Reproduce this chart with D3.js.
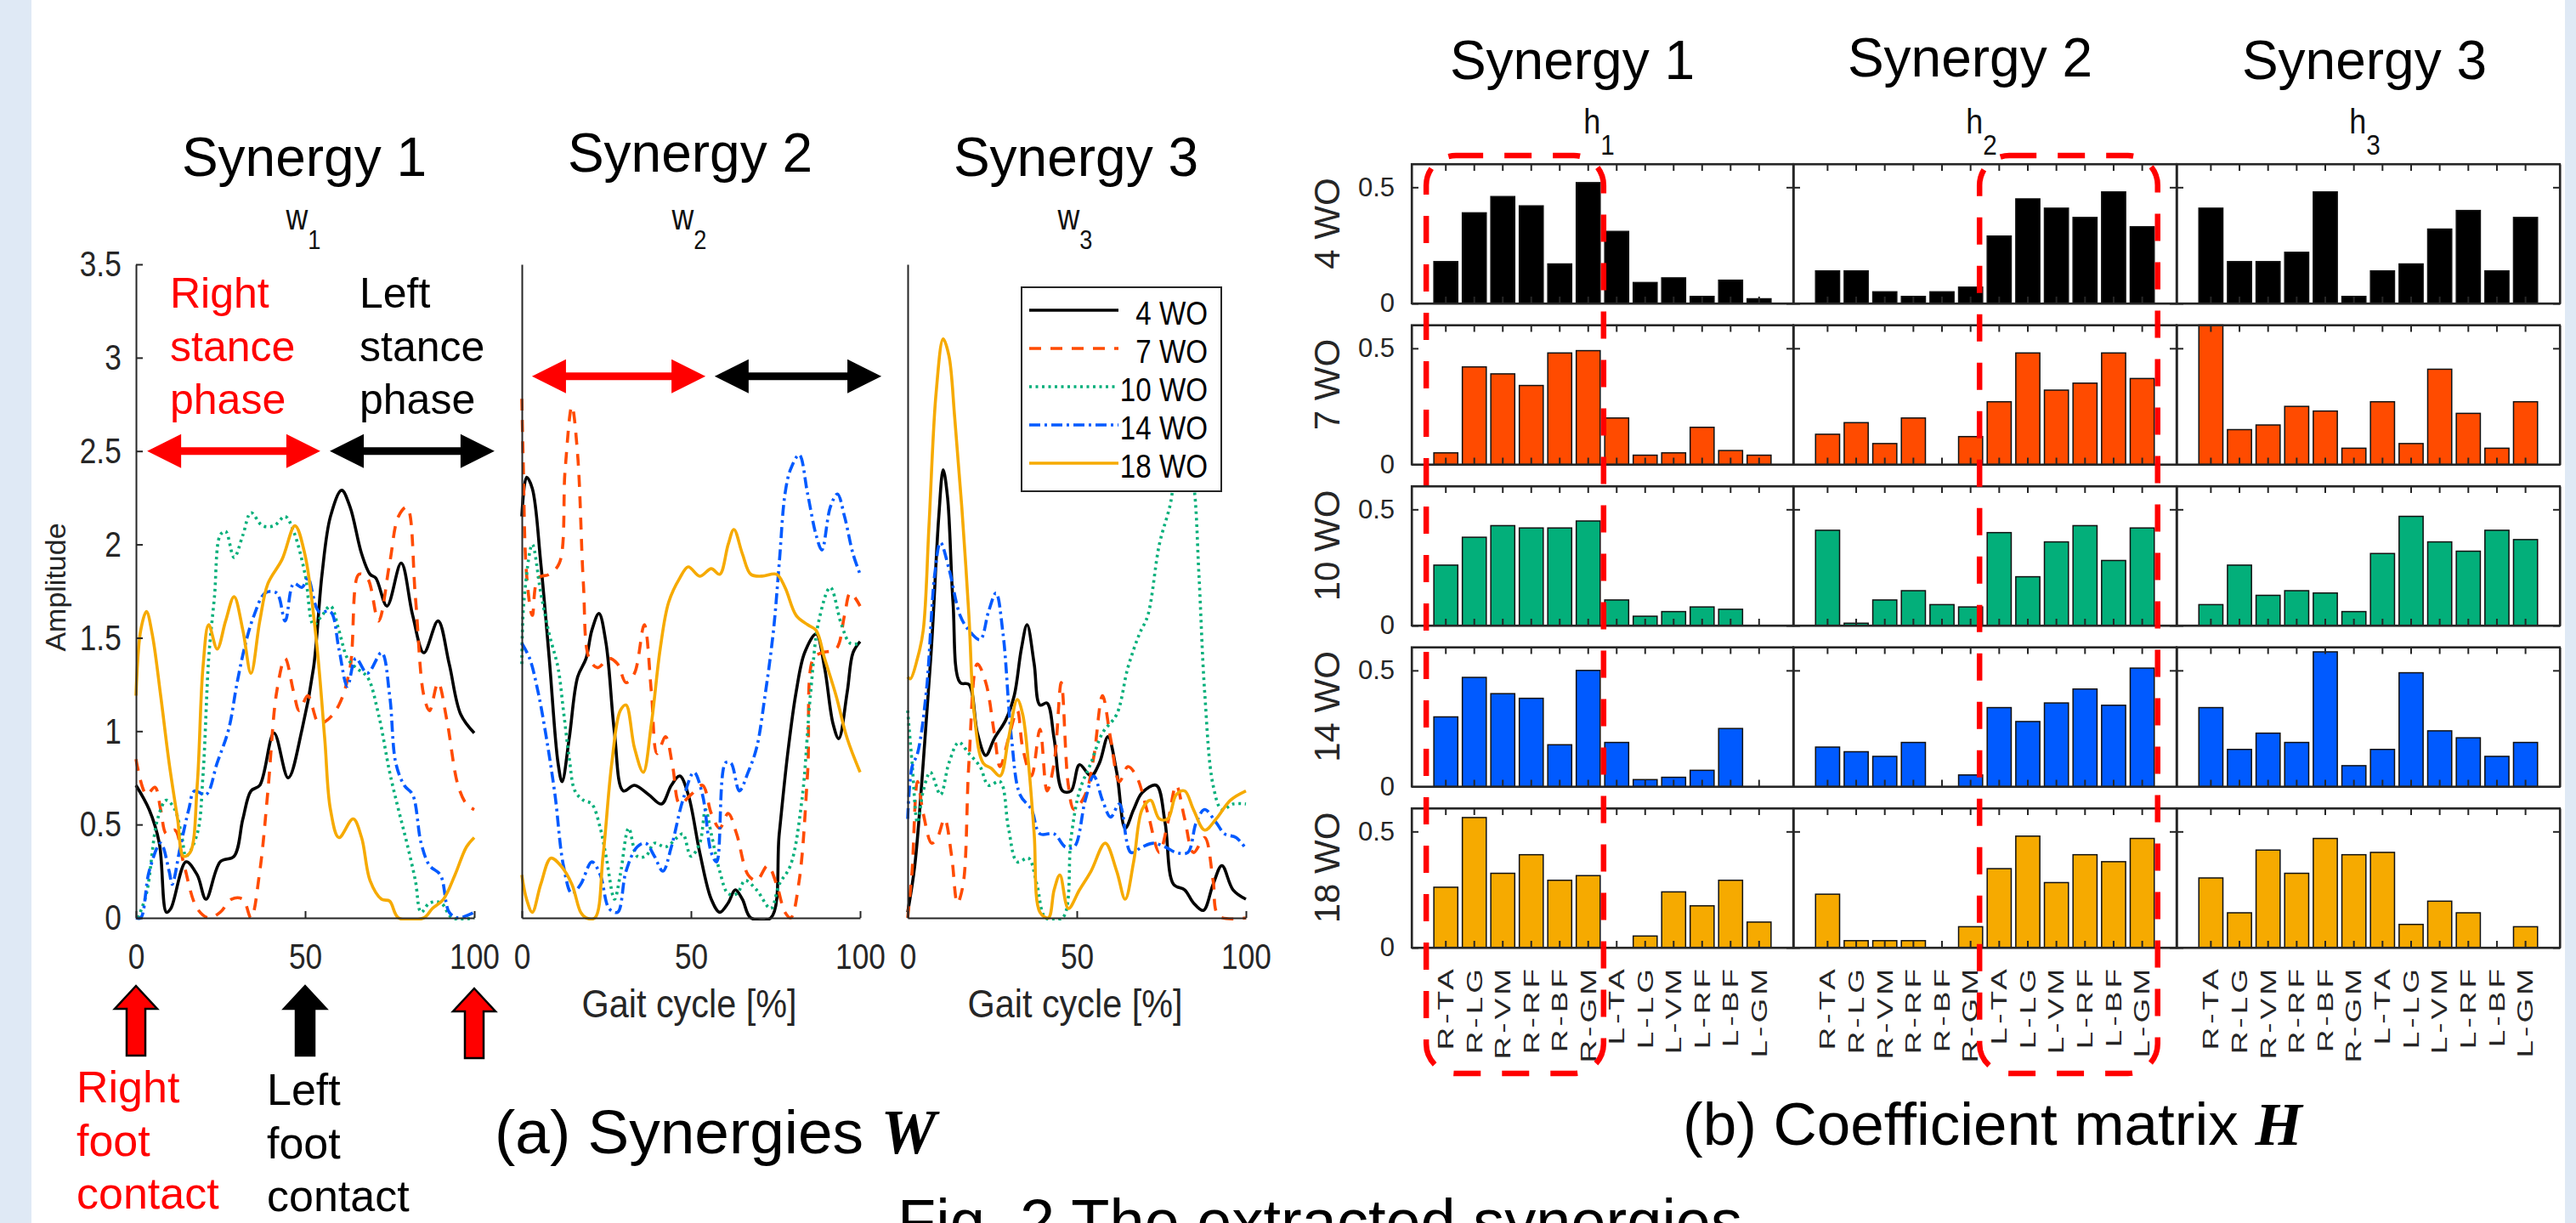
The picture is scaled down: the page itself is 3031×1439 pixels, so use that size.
<!DOCTYPE html>
<html>
<head>
<meta charset="utf-8">
<script src="https://cdn.jsdelivr.net/npm/d3@7"></script>
<style>
  body { margin: 0; background: #fff; }
  svg { display: block; }
  text { font-family: 'Liberation Sans', Arial, Helvetica, sans-serif; }
</style>
</head>
<body>
<script>
// ---------- data ----------
const groups = ['4 WO', '7 WO', '10 WO', '14 WO', '18 WO']
const colors = ['#000000', '#ff4b00', '#03af7a', '#005aff', '#f6aa00']
const dashes = [null, '14 11', '3 4.5', '13 5 3 5', null]
const muscles = ['R-TA', 'R-LG', 'R-VM', 'R-RF', 'R-BF', 'R-GM', 'L-TA', 'L-LG', 'L-VM', 'L-RF', 'L-BF', 'L-GM']
const gaitTicks = [0, 50, 100]
const ampTicks = [0, 0.5, 1, 1.5, 2, 2.5, 3, 3.5]
const coefTicks = [0, 0.5]

// synergy waveforms W, points are [gait cycle %, amplitude]
const w1_4wo = [[0,0.71],[3.9,0.58],[6.9,0.40],[9,0.03],[10.3,0.05],[14.8,0.30],[18.1,0.23],[20.7,0.10],[24.9,0.30],[29,0.33],[31.6,0.53],[34,0.68],[36.6,0.71],[40.8,0.99],[45,0.75],[49.1,1.01],[52.5,1.34],[55,1.84],[57.5,2.15],[60.8,2.29],[63.3,2.20],[66.7,1.95],[69.2,1.84],[70.9,1.82],[74.2,1.67],[78.4,1.90],[81.8,1.62],[85.1,1.42],[89.3,1.59],[92.6,1.36],[96,1.09],[100,0.99]]
const w1_7wo = [[0,0.85],[3.1,0.66],[5.6,0.70],[7.3,0.58],[9,0.45],[11.5,0.47],[14,0.30],[18.1,0.05],[21.5,0],[24.9,0.03],[28.2,0.10],[31.6,0.10],[34,0],[36.6,0.25],[39,0.68],[41.6,1.21],[44.1,1.39],[46.6,1.21],[48.3,1.11],[50.8,1.19],[54.1,1.04],[56.6,1.06],[60,1.14],[63.3,1.34],[65.9,1.84],[68.4,1.82],[71.7,1.59],[75,1.90],[77.6,2.15],[80.1,2.20],[82.6,1.72],[85.1,1.19],[86.8,1.11],[89.3,1.26],[91.9,1.06],[95.2,0.71],[97.7,0.61],[100,0.58]]
const w1_10wo = [[0.6,0],[3.1,0.13],[6.4,0.53],[9,0.63],[11.5,0.58],[13.6,0.43],[14.8,0.33],[18.1,0.45],[19.8,0.76],[21.5,1.39],[23.2,1.72],[24.9,2.05],[26.5,2.07],[29,1.93],[31.6,2.05],[34,2.17],[37.4,2.10],[40.8,2.10],[44.1,2.15],[46.6,2.07],[50,1.84],[52.5,1.57],[55,1.62],[57.5,1.67],[60,1.54],[62.5,1.39],[65,1.34],[68.4,1.29],[71.7,1.09],[75,0.78],[77.6,0.58],[80.1,0.40],[82.6,0.20],[84.3,0.03],[86.8,0.08],[90.2,0.08],[93.5,0],[100,0]]
const w1_14wo = [[0,0],[1.4,0],[3.9,0.25],[7.3,0.40],[9.8,0.25],[10.7,0.18],[13.1,0.38],[15.6,0.58],[17.3,0.68],[20.7,0.66],[24,0.83],[27.4,1.01],[29.9,1.26],[32.4,1.47],[34.9,1.62],[38.2,1.74],[41.6,1.74],[44.1,1.59],[46.6,1.79],[49.1,1.77],[50.8,1.82],[54.1,1.64],[57.5,1.64],[60,1.44],[62.5,1.24],[65,1.39],[68.4,1.31],[72.6,1.42],[75,1.19],[76.8,0.83],[79.3,0.71],[81.8,0.66],[84.3,0.40],[86.8,0.28],[90,0.23],[92.6,0.03],[95.2,0],[100,0.03]]
const w1_18wo = [[0,1.19],[1.4,1.54],[3.1,1.64],[4.8,1.52],[7.3,1.19],[9.8,0.83],[12.3,0.53],[14,0.33],[16,0.35],[18.1,0.71],[19.8,1.34],[21.5,1.57],[24,1.44],[26.5,1.59],[29,1.72],[31.6,1.54],[34,1.31],[36.6,1.59],[39,1.79],[43.2,1.92],[47,2.10],[49.9,1.95],[53.3,1.49],[55.8,0.96],[57.5,0.58],[60,0.43],[64.2,0.53],[66.7,0.43],[69.2,0.20],[72.6,0.10],[75,0.09],[77.6,0],[85.1,0],[87.6,0.05],[90.9,0.10],[94.3,0.23],[97.7,0.38],[100,0.43]]

const w2_4wo = [[0,2.15],[1.4,2.36],[3.1,2.30],[5.6,1.90],[8.1,1.39],[10.7,0.83],[11.9,0.73],[14,0.96],[16.5,1.29],[19,1.39],[20.7,1.54],[22.8,1.63],[24.9,1.47],[27.4,0.99],[30,0.68],[33.3,0.71],[37.5,0.66],[41.3,0.61],[44.2,0.71],[46.7,0.76],[49.2,0.66],[52.6,0.35],[56,0.10],[58.5,0.03],[61,0.08],[63.1,0.15],[65.2,0.10],[67.7,0],[73.6,0],[76.1,0.45],[78.6,0.88],[81.1,1.21],[83.6,1.42],[87,1.52],[89.5,1.34],[92,1.04],[93.7,0.96],[96.2,1.21],[97.9,1.42],[100,1.48]]
const w2_7wo = [[0,2.78],[0.4,2.45],[1.4,1.84],[3.1,1.62],[4.8,1.82],[8.1,1.84],[11.1,1.90],[12.8,2.40],[14.8,2.74],[16.5,2.48],[18.2,1.79],[19.9,1.39],[22.4,1.34],[25.8,1.39],[28.3,1.36],[30.8,1.26],[33.3,1.31],[36.2,1.57],[38.3,1.21],[40,0.88],[42.5,0.97],[44.6,0.81],[46.7,0.61],[50,0.66],[53.4,0.71],[56,0.56],[58.5,0.48],[61,0.56],[63.5,0.45],[66.9,0.23],[69.4,0.20],[72.7,0.28],[75.3,0.18],[77.8,0.03],[79.5,0],[82,0.20],[84.5,0.78],[86.2,1.39],[88.7,1.42],[92.9,1.44],[95.4,1.62],[97.1,1.74],[100,1.67]]
const w2_10wo = [[0,1.36],[0.6,1.69],[3.1,2.0],[5.6,1.74],[8.1,1.52],[10.7,1.34],[12.3,1.11],[14,0.86],[15.7,0.68],[18.2,0.63],[20.7,0.61],[23.2,0.48],[24.9,0.33],[27.4,0.10],[29.1,0.23],[31.6,0.48],[34.1,0.33],[36.6,0.33],[39.2,0.40],[42.5,0.38],[45.9,0.43],[47.6,0.45],[50,0.33],[52.6,0.40],[54.3,0.58],[56,0.45],[58.5,0.25],[61,0.13],[63.6,0.13],[66,0.20],[69.4,0.15],[73.6,0.05],[76.1,0.18],[79.4,0.28],[82.8,0.63],[85.3,1.19],[87.8,1.59],[91.2,1.77],[94.5,1.57],[97.1,1.47],[100,1.47]]
const w2_14wo = [[0,1.47],[2.3,1.39],[4.8,1.21],[7.3,0.96],[9.8,0.66],[12.3,0.28],[14.8,0.13],[17.4,0.18],[20.7,0.30],[23.2,0.23],[25.8,0.05],[28.3,0.03],[30.8,0.25],[34.1,0.38],[36.6,0.40],[39.2,0.33],[41.7,0.25],[44.2,0.38],[47.6,0.63],[50.9,0.78],[53.4,0.66],[56,0.35],[57.6,0.30],[60.2,0.83],[61.8,0.83],[64.3,0.68],[66.9,0.78],[69.4,0.91],[71.9,1.19],[74.4,1.54],[76.1,1.90],[77.8,2.27],[79.4,2.40],[82,2.48],[84.5,2.27],[87,2.05],[88.7,1.97],[91.2,2.20],[93.3,2.27],[95.4,2.15],[97.9,1.95],[100,1.84]]
const w2_18wo = [[0,0.23],[1.4,0.10],[3.1,0.03],[5.6,0.18],[8.6,0.32],[11.5,0.28],[14.8,0.18],[17.4,0.03],[19,0],[21.6,0],[24,0.33],[26.6,0.83],[29.1,1.11],[30.8,1.14],[33.3,0.91],[35.9,0.78],[38.3,1.04],[40.9,1.44],[43.4,1.69],[46.7,1.82],[49.2,1.88],[52.6,1.83],[56,1.87],[58.5,1.84],[61,2.0],[62.7,2.08],[65.2,1.95],[67.7,1.84],[71,1.83],[75.3,1.84],[77.8,1.77],[81.1,1.62],[84.5,1.57],[87,1.54],[89.5,1.39],[92.9,1.19],[96.2,0.96],[100,0.78]]

const w3_4wo = [[0,0.03],[2.1,0.28],[4.6,0.83],[7.1,1.47],[9.2,2.15],[10.5,2.40],[11.8,2.25],[13.4,1.69],[15.5,1.26],[18.1,1.25],[20.6,0.99],[23.1,0.87],[25.6,0.96],[29,1.06],[31.5,1.19],[33.6,1.44],[35.3,1.57],[37.4,1.36],[39.1,1.14],[41.2,1.15],[43.3,0.96],[45.8,0.68],[48.3,0.68],[50.8,0.82],[54.2,0.76],[56.7,0.83],[59.2,0.97],[61.8,0.78],[64.3,0.48],[66.8,0.58],[69.3,0.67],[73.5,0.71],[76.1,0.51],[78.6,0.18],[81.9,0.15],[84.5,0.08],[87.4,0.04],[90.3,0.18],[92.9,0.28],[96.2,0.15],[100,0.10]]
const w3_7wo = [[0,0],[1.3,0.25],[2.9,0.73],[4.6,0.56],[7.1,0.40],[8.8,0.43],[10.9,0.53],[13,0.33],[14.7,0.08],[16.4,0.18],[18.1,0.83],[20.6,1.36],[23.1,1.26],[25.6,0.99],[27.3,0.81],[29.8,0.96],[32.4,1.11],[34,0.91],[36.6,0.76],[39.1,1.01],[41.2,0.68],[43.3,0.83],[45.4,1.26],[47.5,0.71],[49.2,0.58],[52.5,0.66],[55,0.86],[57.6,1.19],[60,0.96],[62.6,0.73],[65.1,0.81],[67.6,0.76],[71,0.56],[74.4,0.35],[76.9,0.51],[79.4,0.71],[81.9,0.53],[84.5,0.35],[87.8,0.43],[90.3,0.20],[92,0.01],[100,0]]
const w3_10wo = [[0,1.11],[1.3,0.83],[2.9,0.51],[4.6,0.68],[6.7,0.78],[9.7,0.66],[12.2,0.83],[15.1,0.94],[18.1,0.88],[21.4,0.81],[23.9,0.71],[27.3,0.73],[29.8,0.48],[32.4,0.30],[35.7,0.32],[38.2,0.18],[40.8,0],[45.8,0],[48.3,0.43],[50.8,0.68],[54.2,0.83],[57.6,0.99],[61.8,1.09],[65.1,1.34],[68.5,1.52],[71,1.62],[74.4,2.0],[77.7,2.22],[79.4,2.43],[81.9,2.55],[84.5,2.33],[86.1,1.84],[87.8,1.21],[90.3,0.71],[92.9,0.58],[96.2,0.61],[100,0.61]]
const w3_14wo = [[0,0.53],[1.3,0.81],[2.9,0.88],[5.5,1.21],[8,1.84],[9.7,2.01],[12.2,1.87],[15.5,1.62],[18.1,1.54],[21.4,1.49],[23.9,1.64],[26.1,1.74],[28.2,1.52],[30.7,0.96],[33.2,0.66],[36.6,0.58],[39.1,0.45],[43.3,0.45],[46.6,0.38],[49.2,0.38],[52.5,0.63],[55,0.76],[57.6,0.63],[60,0.54],[62.6,0.61],[66,0.35],[69.3,0.38],[72.7,0.40],[76.1,0.38],[79.4,0.35],[82.8,0.35],[85.3,0.51],[87.8,0.58],[91.2,0.51],[93.7,0.45],[97.1,0.43],[100,0.37]]
const w3_18wo = [[0,1.29],[0.8,1.28],[2.9,1.39],[4.6,1.54],[6.3,2.10],[8.4,2.81],[10.5,3.10],[12.2,3.01],[13.9,2.68],[16,2.20],[18.1,1.62],[19.7,1.09],[22.3,0.83],[24.8,0.80],[27.3,0.76],[29.8,0.96],[32.4,1.17],[34,1.09],[35.7,0.83],[37.4,0.45],[39.1,0.03],[41.6,0],[43.3,0.15],[45,0.23],[47.5,0.05],[50.8,0.15],[54.2,0.25],[58.4,0.40],[61.8,0.25],[64.3,0.10],[66.8,0.30],[69.3,0.58],[71.8,0.63],[74.4,0.53],[76.9,0.53],[79.4,0.66],[81.9,0.68],[84.5,0.58],[87.8,0.47],[91.2,0.53],[95.4,0.63],[100,0.68]]

const synergiesW = [
  [w1_4wo, w1_7wo, w1_10wo, w1_14wo, w1_18wo],
  [w2_4wo, w2_7wo, w2_10wo, w2_14wo, w2_18wo],
  [w3_4wo, w3_7wo, w3_10wo, w3_14wo, w3_18wo]
]

// coefficient matrix H: per group, [h1, h2, h3] over the 12 muscles
const h_4wo = [
  [0.18, 0.39, 0.46, 0.42, 0.17, 0.52, 0.31, 0.09, 0.11, 0.03, 0.10, 0.02],
  [0.14, 0.14, 0.05, 0.03, 0.05, 0.07, 0.29, 0.45, 0.41, 0.37, 0.48, 0.33],
  [0.41, 0.18, 0.18, 0.22, 0.48, 0.03, 0.14, 0.17, 0.32, 0.40, 0.14, 0.37]
]
const h_7wo = [
  [0.05, 0.42, 0.39, 0.34, 0.48, 0.49, 0.20, 0.04, 0.05, 0.16, 0.06, 0.04],
  [0.13, 0.18, 0.09, 0.20, 0, 0.12, 0.27, 0.48, 0.32, 0.35, 0.48, 0.37],
  [0.62, 0.15, 0.17, 0.25, 0.23, 0.07, 0.27, 0.09, 0.41, 0.22, 0.07, 0.27]
]
const h_10wo = [
  [0.26, 0.38, 0.43, 0.42, 0.42, 0.45, 0.11, 0.04, 0.06, 0.08, 0.07, 0],
  [0.41, 0.01, 0.11, 0.15, 0.09, 0.08, 0.40, 0.21, 0.36, 0.43, 0.28, 0.42],
  [0.09, 0.26, 0.13, 0.15, 0.14, 0.06, 0.31, 0.47, 0.36, 0.32, 0.41, 0.37]
]
const h_14wo = [
  [0.30, 0.47, 0.40, 0.38, 0.18, 0.50, 0.19, 0.03, 0.04, 0.07, 0.25, 0],
  [0.17, 0.15, 0.13, 0.19, 0, 0.05, 0.34, 0.28, 0.36, 0.42, 0.35, 0.51],
  [0.34, 0.16, 0.23, 0.19, 0.58, 0.09, 0.16, 0.49, 0.24, 0.21, 0.13, 0.19]
]
const h_18wo = [
  [0.26, 0.56, 0.32, 0.40, 0.29, 0.31, 0, 0.05, 0.24, 0.18, 0.29, 0.11],
  [0.23, 0.03, 0.03, 0.03, 0, 0.09, 0.34, 0.48, 0.28, 0.40, 0.37, 0.47],
  [0.30, 0.15, 0.42, 0.32, 0.47, 0.40, 0.41, 0.10, 0.20, 0.15, 0, 0.09]
]
const coefH = [h_4wo, h_7wo, h_10wo, h_14wo, h_18wo]

// stance phase arrows (gait %, amplitude level) and foot contact events
const phaseArrows = [
  { panel: 0, level: 2.5, from: 3.3, to: 54.5, color: '#ff0000' },
  { panel: 0, level: 2.5, from: 57.3, to: 106, color: '#000000' },
  { panel: 1, level: 2.9, from: 3, to: 54.3, color: '#ff0000' },
  { panel: 1, level: 2.9, from: 57, to: 106.3, color: '#000000' }
]
const contacts = [{ at: 0, color: '#ff0000' }, { at: 50, color: '#000000' }, { at: 100, color: '#ff0000' }]
const highlights = [{ col: 0, from: 'R-TA', to: 'R-GM' }, { col: 1, from: 'L-TA', to: 'L-GM' }]

// ---------- drawing ----------
const width = 3031
const height = 1439
const AX = '#262626'
const FONT = "'Liberation Sans', Arial, Helvetica, sans-serif"

const svg = d3.select('body').append('svg')
    .attr('width', width)
    .attr('height', height)

svg.append('rect').attr('width', width).attr('height', height).attr('fill', '#fff')
svg.append('rect').attr('width', 37).attr('height', height).attr('fill', '#dfe9f5')
svg.append('rect').attr('x', 3018).attr('width', 13).attr('height', height).attr('fill', '#dfe9f5')

function label (g, x, y, str, o = {}) {
    let tr = `translate(${x},${y})`
    if (o.rotate) tr += ` rotate(${o.rotate})`
    if (o.sx || o.sy) tr += ` scale(${o.sx || 1},${o.sy || 1})`
    const t = g.append('text')
        .attr('transform', tr)
        .attr('font-size', o.size || 40)
        .attr('fill', o.color || '#000')
        .attr('text-anchor', o.anchor || 'start')
        .text(str)
    if (o.weight) t.attr('font-weight', o.weight)
    return t
}

function subLabel (g, x, y, main, sub, size, subSize, drop, sx) {
    const t = g.append('text')
        .attr('transform', `translate(${x},${y}) scale(${sx},1)`)
        .attr('font-size', size)
        .attr('text-anchor', 'middle')
        .attr('fill', '#111')
    t.append('tspan').text(main)
    t.append('tspan').attr('dy', drop).attr('font-size', subSize).text(sub)
}

function styleAxis (g, size, sx) {
    g.attr('font-size', size).attr('font-family', FONT).attr('color', AX)
    g.selectAll('path, line').attr('stroke-width', 2)
    if (sx) g.selectAll('.tick text').attr('transform', `scale(${sx},1)`)
}

// ----- (a) synergies W -----
const yAmp = d3.scaleLinear().domain([0, 3.5]).range([1080, 311])
const wRanges = [[160, 558], [614, 1012], [1068, 1466]]
const wTitleY = [207, 202, 207]

synergiesW.forEach((series, i) => {
    const x = d3.scaleLinear().domain([0, 100]).range(wRanges[i])
    const g = svg.append('g')
    const cx = (wRanges[i][0] + wRanges[i][1]) / 2

    const clipId = 'wclip' + i
    svg.append('clipPath').attr('id', clipId).append('rect')
        .attr('x', wRanges[i][0] - 2).attr('y', 290)
        .attr('width', wRanges[i][1] - wRanges[i][0] + 4).attr('height', yAmp(0) - 290 + 3)

    const lineGen = d3.line()
        .x(d => x(d[0]))
        .y(d => yAmp(d[1]))
        .curve(d3.curveCatmullRom.alpha(0.5))

    const lg = g.append('g').attr('clip-path', `url(#${clipId})`)
    series.forEach((pts, k) => {
        lg.append('path')
            .attr('d', lineGen(pts))
            .attr('fill', 'none')
            .attr('stroke', colors[k])
            .attr('stroke-width', 3.6)
            .attr('stroke-linejoin', 'round')
            .attr('stroke-dasharray', dashes[k])
    })

    const xa = g.append('g')
        .attr('transform', `translate(0,${yAmp(0)})`)
        .call(d3.axisBottom(x).tickValues(gaitTicks).tickSize(-8).tickSizeOuter(0).tickPadding(29).tickFormat(d => d))
    styleAxis(xa, 43, 0.82)

    const ya = g.append('g')
        .attr('transform', `translate(${wRanges[i][0]},0)`)
        .call(d3.axisLeft(yAmp).tickValues(i === 0 ? ampTicks : []).tickSize(-8).tickSizeOuter(0).tickPadding(21).tickFormat(d => d))
    styleAxis(ya, 43, 0.82)

    label(svg, cx - 1, wTitleY[i], 'Synergy ' + (i + 1), { size: 64, anchor: 'middle' })
    subLabel(svg, cx - 2, 270, 'w', String(i + 1), 42, 32, 23, 0.85)

    if (i > 0) label(svg, cx - 2, 1197, 'Gait cycle [%]', { size: 46, anchor: 'middle', color: AX, sx: 0.9 })
})

label(svg, 77, 691, 'Amplitude', { size: 34, anchor: 'middle', rotate: -90, color: AX })

// stance phase arrows
phaseArrows.forEach(a => {
    const x = d3.scaleLinear().domain([0, 100]).range(wRanges[a.panel])
    const x1 = x(a.from), x2 = x(a.to), y = yAmp(a.level)
    const hl = 40, hh = 20, sh = 4.5
    const pts = [[x1, y], [x1 + hl, y - hh], [x1 + hl, y - sh], [x2 - hl, y - sh], [x2 - hl, y - hh], [x2, y],
        [x2 - hl, y + hh], [x2 - hl, y + sh], [x1 + hl, y + sh], [x1 + hl, y + hh]]
    svg.append('polygon').attr('points', pts.join(' ')).attr('fill', a.color)
})

const stanceLines = ['stance', 'phase']
label(svg, 200, 362, 'Right', { size: 50, color: '#ff0000' })
stanceLines.forEach((s, j) => label(svg, 200, 425 + j * 62, s, { size: 50, color: '#ff0000' }))
label(svg, 423, 362, 'Left', { size: 50 })
stanceLines.forEach((s, j) => label(svg, 423, 425 + j * 62, s, { size: 50 }))

// legend
const legend = svg.append('g')
legend.append('rect').attr('x', 1202).attr('y', 338).attr('width', 235).attr('height', 240)
    .attr('fill', '#fff').attr('stroke', AX).attr('stroke-width', 2)
groups.forEach((name, k) => {
    const ly = 365 + k * 45
    legend.append('line').attr('x1', 1211).attr('x2', 1316).attr('y1', ly).attr('y2', ly)
        .attr('stroke', colors[k]).attr('stroke-width', 3.6).attr('stroke-dasharray', dashes[k])
    label(legend, 1421, ly + 17, name, { size: 39, anchor: 'end', sx: 0.85 })
})

// foot contact arrows
const x1Scale = d3.scaleLinear().domain([0, 100]).range(wRanges[0])
contacts.forEach((c, j) => {
    const cx = x1Scale(c.at), ty = j === 2 ? 1163 : 1160
    const pts = [[cx, ty], [cx + 25, ty + 27], [cx + 11, ty + 27], [cx + 11, ty + 82], [cx - 11, ty + 82], [cx - 11, ty + 27], [cx - 25, ty + 27]]
    svg.append('polygon').attr('points', pts.join(' ')).attr('fill', c.color)
        .attr('stroke', '#000').attr('stroke-width', 2.5).attr('stroke-linejoin', 'miter')
})
const contactLines = ['foot', 'contact']
label(svg, 90, 1297, 'Right', { size: 52, color: '#ff0000' })
contactLines.forEach((s, j) => label(svg, 90, 1360 + j * 62, s, { size: 52, color: '#ff0000' }))
label(svg, 314, 1300, 'Left', { size: 52 })
contactLines.forEach((s, j) => label(svg, 314, 1363 + j * 62, s, { size: 52 }))

const capA = label(svg, 582, 1357, '(a) Synergies ', { size: 73 })
capA.append('tspan').attr('font-family', "'Liberation Serif', 'DejaVu Serif', serif")
    .attr('font-weight', 'bold').attr('font-style', 'italic').text('W')

// ----- (b) coefficient matrix H -----
const hCols = [[1661, 2110], [2110, 2561], [2561, 3012]]
const rowTop = [193, 382.5, 572, 761.5, 951]
const rowH = 164
const yMax = 0.6
const hTitle = [[1850, 93], [2318, 90], [2782, 93]]

hCols.forEach((c, j) => {
    label(svg, hTitle[j][0], hTitle[j][1], 'Synergy ' + (j + 1), { size: 64, anchor: 'middle' })
    subLabel(svg, (c[0] + c[1]) / 2 - 4, 157, 'h', String(j + 1), 40, 33, 25, 0.9)
})

coefH.forEach((rows, r) => {
    const y = d3.scaleLinear().domain([0, yMax]).range([rowTop[r] + rowH, rowTop[r]])
    const base = y(0)

    rows.forEach((vals, c) => {
        const x = d3.scaleBand().domain(muscles).range(hCols[c]).paddingInner(0.16).paddingOuter(0.78)
        const g = svg.append('g')

        g.selectAll('rect.bar')
            .data(vals)
            .enter()
            .append('rect')
            .attr('class', 'bar')
            .attr('x', (d, i) => x(muscles[i]))
            .attr('width', x.bandwidth())
            .attr('y', d => y(Math.min(d, yMax)))
            .attr('height', d => base - y(Math.min(d, yMax)))
            .attr('fill', colors[r])
            .attr('stroke', '#111')
            .attr('stroke-width', d => d > 0 ? 1.5 : 0)

        const top = g.append('g').attr('transform', `translate(0,${rowTop[r]})`)
            .call(d3.axisTop(x).tickSize(-8).tickSizeOuter(0).tickFormat(''))
        styleAxis(top, 30)
        const bottom = g.append('g').attr('transform', `translate(0,${base})`)
            .call(d3.axisBottom(x).tickSize(-8).tickSizeOuter(0).tickPadding(21))
        styleAxis(bottom, 37)
        if (r === coefH.length - 1) {
            bottom.selectAll('.tick text')
                .attr('x', -21).attr('y', 0).attr('dy', '0.35em')
                .attr('text-anchor', 'end')
                .attr('letter-spacing', 4)
                .attr('transform', 'rotate(-90) scale(1,0.68)')
        } else {
            bottom.selectAll('.tick text').remove()
        }

        const left = g.append('g').attr('transform', `translate(${hCols[c][0]},0)`)
            .call(d3.axisLeft(y).tickValues(coefTicks).tickSize(-8).tickSizeOuter(0).tickPadding(20).tickFormat(d => d))
        styleAxis(left, 31)
        if (c > 0) left.selectAll('.tick text').remove()
        const right = g.append('g').attr('transform', `translate(${hCols[c][1]},0)`)
            .call(d3.axisRight(y).tickValues(coefTicks).tickSize(-8).tickSizeOuter(0).tickFormat(''))
        styleAxis(right, 30)

        g.append('rect').attr('x', hCols[c][0]).attr('y', rowTop[r])
            .attr('width', hCols[c][1] - hCols[c][0]).attr('height', rowH)
            .attr('fill', 'none').attr('stroke', AX).attr('stroke-width', 2.2)
    })

    label(svg, 1576, rowTop[r] + rowH / 2 - 12, groups[r], { size: 42, anchor: 'middle', rotate: -90, color: AX })
})

// red dashed frames around the dominant muscles
highlights.forEach(h => {
    const x = d3.scaleBand().domain(muscles).range(hCols[h.col]).paddingInner(0.16).paddingOuter(0.78)
    const x0 = x(h.from) - 9
    const x1 = x(h.to) + x.bandwidth() + 4
    svg.append('rect')
        .attr('x', x0).attr('y', 183)
        .attr('width', x1 - x0).attr('height', 1263 - 183)
        .attr('rx', 35).attr('ry', 35)
        .attr('fill', 'none').attr('stroke', '#ff0000')
        .attr('stroke-width', 6.5).attr('stroke-dasharray', '32 25')
})

const capB = label(svg, 1980, 1347, '(b) Coefficient matrix ', { size: 71 })
capB.append('tspan').attr('font-family', "'Liberation Serif', 'DejaVu Serif', serif")
    .attr('font-weight', 'bold').attr('font-style', 'italic').text('H')

// the caption runs off the bottom edge, as in the source slide
label(svg, 1056, 1463, 'Fig. 2 The extracted synergies', { size: 74 })
</script>
</body>
</html>
